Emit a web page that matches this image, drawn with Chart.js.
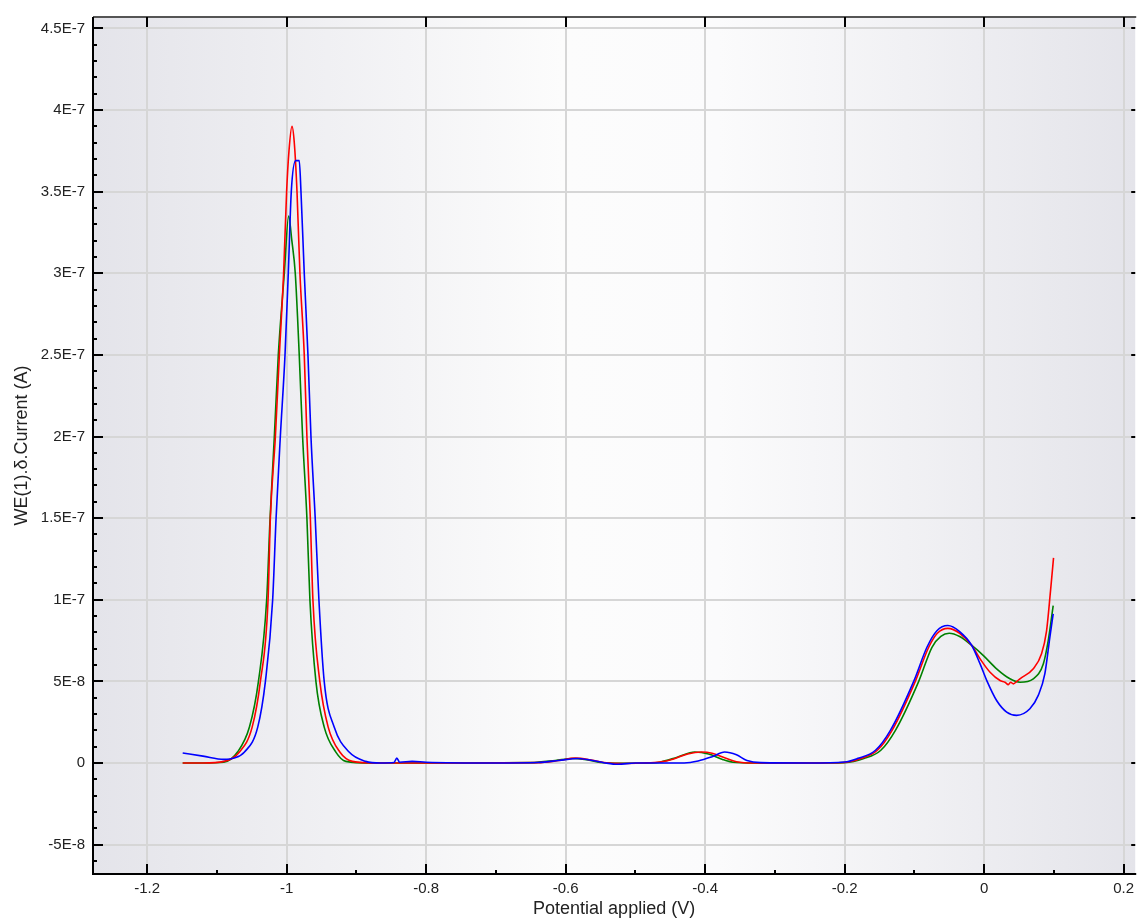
<!DOCTYPE html>
<html>
<head>
<meta charset="utf-8">
<script src="https://cdn.jsdelivr.net/npm/chart.js@4.4.0/dist/chart.umd.min.js"></script>
<style>
    html, body { margin: 0; padding: 0; background: #fff; }
</style>
</head>
<body>
<canvas id="myChart" width="1140" height="918"></canvas>
<script>
// potential (V) and current (in units of 1E-8 A) for the three scans
const redX = [-1.149, -1.12, -1.09, -1.0676, -1.0494, -1.0376, -1.0266, -1.0233, -1.0161, -1.0104, -1.0043, -1.0, -0.9966, -0.9923, -0.989, -0.9851, -0.9809, -0.9747, -0.9709, -0.966, -0.9623, -0.9524, -0.9404, -0.9237, -0.9057, -0.87, -0.75, -0.64, -0.61, -0.586, -0.565, -0.545, -0.52, -0.49, -0.465, -0.445, -0.425, -0.405, -0.39, -0.372, -0.355, -0.33, -0.25, -0.2, -0.177, -0.153, -0.1319, -0.0986, -0.0794, -0.067, -0.052, -0.035, -0.0176, -0.0057, 0.0086, 0.0229, 0.03, 0.0348, 0.038, 0.042, 0.047, 0.0514, 0.0706, 0.0824, 0.0896, 0.0953, 0.0996];
const redY = [0, 0, 0.1, 0.67, 2.2, 5, 10, 15, 20, 25, 30, 35, 37.5, 39, 38, 35, 30, 25, 20, 15, 10, 5, 2.2, 0.67, 0.1, 0, 0, 0.02, 0.15, 0.3, 0.2, 0.03, -0.03, 0, 0.06, 0.25, 0.55, 0.67, 0.6, 0.32, 0.08, 0, 0, 0.03, 0.27, 0.78, 2.0, 5.0, 7.09, 7.95, 8.25, 7.95, 7.2, 6.38, 5.56, 5.05, 4.95, 4.8, 4.95, 4.85, 5.0, 5.16, 5.77, 6.69, 8.1, 10.56, 12.57];

const greenX = [-1.149, -1.12, -1.09, -1.0704, -1.0533, -1.0404, -1.0286, -1.0237, -1.0176, -1.0119, -1.0033, -0.9971, -0.9925, -0.9876, -0.9819, -0.9771, -0.9709, -0.9666, -0.958, -0.9461, -0.9294, -0.9151, -0.88, -0.75, -0.65, -0.615, -0.59, -0.57, -0.55, -0.52, -0.48, -0.465, -0.44, -0.415, -0.395, -0.375, -0.36, -0.33, -0.25, -0.2, -0.1723, -0.148, -0.1271, -0.0937, -0.0747, -0.062, -0.05, -0.035, -0.0176, -0.0009, 0.018, 0.0371, 0.0514, 0.0706, 0.0849, 0.092, 0.0991];
const greenY = [0, 0, 0.05, 0.67, 2.2, 5, 10, 15, 20, 25, 30, 33.5, 32, 30, 25, 20, 15, 10, 5, 2.2, 0.67, 0.1, 0, 0, 0.02, 0.15, 0.28, 0.2, 0.03, -0.02, 0, 0.05, 0.35, 0.67, 0.55, 0.22, 0.05, 0, 0, 0.02, 0.27, 0.78, 2.0, 5.0, 7.09, 7.75, 7.95, 7.75, 7.2, 6.58, 5.77, 5.16, 4.95, 5.16, 6.07, 7.5, 9.64];

const blueX = [-1.149, -1.12, -1.09, -1.075, -1.0604, -1.0414, -1.0304, -1.02, -1.0151, -1.009, -1.0023, -0.9976, -0.9933, -0.987, -0.9819, -0.9794, -0.9747, -0.9694, -0.9651, -0.959, -0.9537, -0.9461, -0.9318, -0.9104, -0.8866, -0.865, -0.846, -0.842, -0.838, -0.82, -0.8, -0.7, -0.64, -0.61, -0.583, -0.565, -0.545, -0.525, -0.5, -0.43, -0.41, -0.39, -0.372, -0.355, -0.34, -0.32, -0.25, -0.2, -0.1819, -0.1557, -0.1343, -0.1009, -0.0819, -0.0676, -0.052, -0.035, -0.0176, -0.0057, 0.0039, 0.018, 0.0324, 0.0467, 0.0657, 0.0777, 0.0871, 0.0943, 0.0991];
const blueY = [0.61, 0.42, 0.22, 0.3, 0.67, 2.2, 5, 10, 15, 20, 25, 30, 35, 36.9, 36.9, 35, 30, 25, 20, 15, 10, 5, 2.2, 0.67, 0.1, 0, 0.03, 0.3, 0.05, 0.1, 0.05, 0, 0.03, 0.15, 0.28, 0.18, 0.02, -0.08, 0, 0, 0.12, 0.38, 0.67, 0.5, 0.15, 0.02, 0, 0.06, 0.27, 0.78, 2.0, 5.0, 7.09, 8.1, 8.42, 8.05, 7.2, 6.07, 5.05, 3.83, 3.12, 2.92, 3.32, 4.14, 5.46, 7.7, 9.13];

const xTicks = [-1.2, -1, -0.8, -0.6, -0.4, -0.2, 0, 0.2];
const xTickLabels = ["-1.2", "-1", "-0.8", "-0.6", "-0.4", "-0.2", "0", "0.2"];
const yTicks = [-5, 0, 5, 10, 15, 20, 25, 30, 35, 40, 45];
const yTickLabels = ["-5E-8", "0", "5E-8", "1E-7", "1.5E-7", "2E-7", "2.5E-7", "3E-7", "3.5E-7", "4E-7", "4.5E-7"];

function toPoints(xs, ys) {
    return xs.map((x, i) => ({ x: x, y: ys[i] }));
}

const backdrop = {
    id: 'backdrop',
    beforeDraw(chart) {
        const { ctx, chartArea: a } = chart;
        const g = ctx.createLinearGradient(a.left, 0, a.right, 0);
        g.addColorStop(0, '#e4e4ea');
        g.addColorStop(0.3, '#f4f4f6');
        g.addColorStop(0.45, '#fcfcfc');
        g.addColorStop(0.6, '#fbfbfc');
        g.addColorStop(0.78, '#f1f1f4');
        g.addColorStop(1, '#e4e4ea');
        ctx.save();
        ctx.fillStyle = g;
        ctx.fillRect(a.left, a.top, a.right - a.left, a.bottom - a.top);
        ctx.restore();
    }
};

// frame with inward tick marks like the original software
const frame = {
    id: 'frame',
    afterDraw(chart) {
        const { ctx, chartArea: a, scales } = chart;
        const xs = scales.x, ys = scales.y;
        ctx.save();
        ctx.lineWidth = 2;
        ctx.strokeStyle = '#555';
        ctx.beginPath();
        ctx.moveTo(a.left, a.top);
        ctx.lineTo(a.right + 1, a.top);
        ctx.stroke();
        ctx.strokeStyle = '#000';
        ctx.beginPath();
        ctx.moveTo(a.left, a.top);
        ctx.lineTo(a.left, a.bottom);
        ctx.lineTo(a.right + 1, a.bottom);
        ctx.stroke();

        ctx.lineWidth = 2;
        ctx.beginPath();
        for (let v = -6; v <= 45; v++) {
            const p = Math.round(ys.getPixelForValue(v));
            const len = (v % 5 === 0) ? 10 : 4;
            ctx.moveTo(a.left, p);
            ctx.lineTo(a.left + len, p);
            if (v % 5 === 0) {
                ctx.moveTo(a.right, p);
                ctx.lineTo(a.right - 4, p);
            }
        }
        for (let k = -12; k <= 2; k++) {
            const v = k / 10;
            if (v < xs.min || v > xs.max) continue;
            const p = Math.round(xs.getPixelForValue(v));
            const len = (k % 2 === 0) ? 10 : 4;
            ctx.moveTo(p, a.bottom);
            ctx.lineTo(p, a.bottom - len);
            if (k % 2 === 0) {
                ctx.moveTo(p, a.top);
                ctx.lineTo(p, a.top + len);
            }
        }
        ctx.stroke();
        ctx.restore();
    }
};

const ctx = document.getElementById('myChart');

new Chart(ctx, {
    type: 'line',
    data: {
        datasets: [
            { label: 'blue', data: toPoints(blueX, blueY), borderColor: '#0000ff', order: 1 },
            { label: 'red', data: toPoints(redX, redY), borderColor: '#ff0000', order: 2 },
            { label: 'green', data: toPoints(greenX, greenY), borderColor: '#008000', order: 3 }
        ]
    },
    options: {
        responsive: false,
        animation: false,
        devicePixelRatio: 1,
        layout: { padding: { top: 15, right: 1, left: 0, bottom: 0 } },
        elements: {
            point: { radius: 0 },
            line: { borderWidth: 1.6, cubicInterpolationMode: 'monotone', fill: false }
        },
        plugins: {
            legend: { display: false },
            tooltip: { enabled: false }
        },
        scales: {
            x: {
                type: 'linear',
                min: -1.2776,
                max: 0.2167,
                afterBuildTicks: (scale) => { scale.ticks = xTicks.map(v => ({ value: v })); },
                afterFit: (scale) => { scale.height = 44; },
                grid: { color: '#d6d6d6', lineWidth: 2, drawTicks: false },
                border: { display: false },
                ticks: {
                    padding: 6,
                    color: '#222',
                    font: { family: 'Liberation Sans, Arial', size: 15 },
                    callback: (value, i) => xTickLabels[i]
                },
                title: {
                    display: true,
                    text: 'Potential applied (V)',
                    color: '#222',
                    font: { family: 'Liberation Sans, Arial', size: 18, lineHeight: 1 },
                    padding: { top: 0, bottom: 0 }
                }
            },
            y: {
                min: -6.8,
                max: 45.7,
                afterBuildTicks: (scale) => { scale.ticks = yTicks.map(v => ({ value: v })); },
                afterFit: (scale) => { scale.width = 93; },
                grid: { color: '#d6d6d6', lineWidth: 2, drawTicks: false },
                border: { display: false },
                ticks: {
                    padding: 8,
                    color: '#222',
                    font: { family: 'Liberation Sans, Arial', size: 15 },
                    callback: (value, i) => yTickLabels[i]
                },
                title: {
                    display: true,
                    text: 'WE(1).δ.Current (A)',
                    color: '#222',
                    font: { family: 'Liberation Sans, Arial', size: 18, lineHeight: 1 },
                    padding: { top: 13, bottom: 0 }
                }
            }
        }
    },
    plugins: [backdrop, frame]
});
</script>
</body>
</html>
